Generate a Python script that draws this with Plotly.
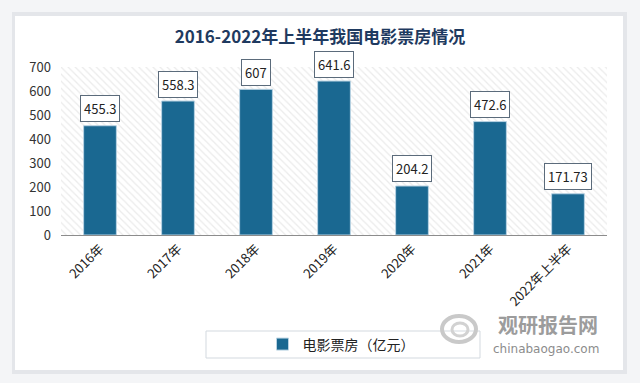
import plotly.graph_objects as go

categories = ["2016年", "2017年", "2018年", "2019年", "2020年", "2021年", "2022年上半年"]
box_office = [455.3, 558.3, 607, 641.6, 204.2, 472.6, 171.73]
value_labels = ["455.3", "558.3", "607", "641.6", "204.2", "472.6", "171.73"]
y_ticks = [0, 100, 200, 300, 400, 500, 600, 700]

W, H = 640, 383
ML, MR, MT, MB = 61, 33, 67, 148
PW = W - ML - MR
PH = H - MT - MB


def px(x):
    return (x - ML) / PW


def py(y):
    return (H - MB - y) / PH


FONT = "Noto Sans CJK SC"

fig = go.Figure()

# hatched plot background
fig.add_trace(go.Bar(
    x=[0.5], y=[700], width=[1], xaxis="x", yaxis="y",
    marker=dict(color="white", line=dict(width=0),
                pattern=dict(shape="\\", fgcolor="#d8d8d8", bgcolor="white", size=5, solidity=0.25)),
    showlegend=False, hoverinfo="skip",
))

fig.add_trace(go.Bar(
    x=categories, y=box_office, xaxis="x2", yaxis="y",
    name="电影票房（亿元）",
    marker=dict(color="#1a6891", line=dict(color="#b9d3e3", width=1)),
    width=0.42,
))

annotations = []
for c, v, t in zip(categories, box_office, value_labels):
    annotations.append(dict(
        x=c, y=v, xref="x2", yref="y", text=t, showarrow=False,
        yshift=17, bgcolor="white", bordercolor="#5b6b7b", borderwidth=1, borderpad=3,
        font=dict(family=FONT, size=13, color="#222222"),
    ))

# watermark
annotations.append(dict(x=px(548), y=py(324), xref="paper", yref="paper", text="<b>观研报告网</b>",
                        xanchor="center", yanchor="middle",
                        showarrow=False, font=dict(family=FONT, size=20, color="#9c9c9c")))
annotations.append(dict(x=px(546), y=py(349), xref="paper", yref="paper", text="chinabaogao.com",
                        xanchor="center", yanchor="middle",
                        showarrow=False, font=dict(family="DejaVu Sans", size=12, color="#8c8c8c")))

shapes = [
    dict(type="rect", xref="paper", yref="paper", x0=px(12), x1=px(627), y0=py(12), y1=py(374),
         fillcolor="#e4e6ea", line=dict(width=0), layer="below"),
    dict(type="rect", xref="paper", yref="paper", x0=px(15), x1=px(623), y0=py(16), y1=py(370),
         fillcolor="white", line=dict(width=0), layer="below"),
    dict(type="rect", xref="paper", yref="paper", x0=px(206), x1=px(480), y0=py(331), y1=py(358),
         fillcolor="white", line=dict(color="#d3d9df", width=1), layer="below"),
    # watermark logo approximation
    dict(type="circle", xref="paper", yref="paper", x0=px(442), x1=px(476), y0=py(316), y1=py(342),
         fillcolor="rgba(0,0,0,0)", line=dict(color="#c9c9c9", width=4)),
    dict(type="circle", xref="paper", yref="paper", x0=px(452), x1=px(468), y0=py(323), y1=py(336),
         fillcolor="rgba(0,0,0,0)", line=dict(color="#d2d2d2", width=3)),
]

fig.update_layout(
    width=W, height=H,
    margin=dict(l=ML, r=MR, t=MT, b=MB, autoexpand=False),
    paper_bgcolor="#f4f5f7",
    plot_bgcolor="rgba(0,0,0,0)",
    title=dict(text="<b>2016-2022年上半年我国电影票房情况</b>", x=0.5, xref="container", xanchor="center",
               y=1 - 37 / H, yref="container", yanchor="middle",
               font=dict(family=FONT, size=17, color="#1f3a60")),
    xaxis=dict(range=[0, 1], visible=False, fixedrange=True, automargin=False),
    xaxis2=dict(overlaying="x", side="bottom", type="category", tickangle=-45, automargin=False,
                showgrid=False, showline=True, linecolor="#8c8c8c", linewidth=1,
                ticks="", tickfont=dict(family=FONT, size=13, color="#222222")),
    yaxis=dict(range=[0, 700], tickvals=y_ticks, showgrid=False, zeroline=False, automargin=False,
               showline=False, ticks="", ticklabelstandoff=9,
               tickfont=dict(family=FONT, size=13, color="#333333")),
    barmode="overlay",
    showlegend=True,
    legend=dict(orientation="h", x=341 / W, xref="container", xanchor="center",
                y=1 - 344.5 / H, yref="container", yanchor="middle",
                bgcolor="rgba(0,0,0,0)", font=dict(family=FONT, size=14, color="#222222")),
    annotations=annotations,
    shapes=shapes,
)

fig.write_html("out.html", config={"displayModeBar": False},
               post_script="document.body.style.margin='0';")
